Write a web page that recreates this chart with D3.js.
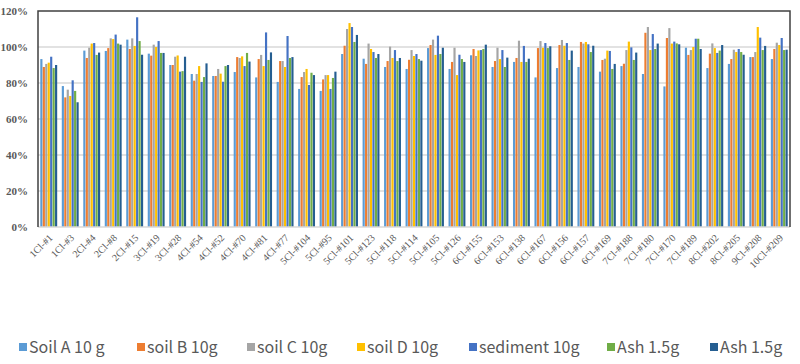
<!DOCTYPE html>
<html><head><meta charset="utf-8">
<script src="https://cdn.jsdelivr.net/npm/d3@7"></script>
<style>html,body{margin:0;padding:0;background:#fff;}svg{display:block;}</style>
</head><body>
<svg id="chart" width="800" height="364"></svg>
<script>
const categories = ["1Cl-#1","1Cl-#3","2Cl-#4","2Cl-#8","2Cl-#15","3Cl-#19","3Cl-#28","4Cl-#54","4Cl-#52","4Cl-#70","4Cl-#81","4Cl-#77","5Cl-#104","5Cl-#95","5Cl-#101","5Cl-#123","5Cl-#118","5Cl-#114","5Cl-#105","5Cl-#126","6Cl-#155","6Cl-#153","6Cl-#138","6Cl-#167","6Cl-#156","6Cl-#157","6Cl-#169","7Cl-#188","7Cl-#180","7Cl-#170","7Cl-#189","8Cl-#202","8Cl-#205","9Cl-#208","10Cl-#209"];
const seriesNames = ["Soil A 10 g","soil B 10g","soil C 10g","soil D 10g","sediment 10g","Ash 1.5g","Ash 1.5g"];
const soilA = [93.3,78.3,98.0,97.8,104.1,96.3,90.0,85.0,83.9,86.1,83.1,80.6,76.7,75.6,96.1,93.5,88.9,87.8,99.4,87.8,95.4,88.9,91.7,83.1,88.3,88.9,86.3,89.4,85.0,78.1,99.6,88.3,90.6,94.4,93.3];
const soilB = [88.9,72.0,93.9,99.4,98.9,95.2,90.0,81.3,83.9,94.4,93.3,92.2,83.3,82.0,100.7,90.6,92.2,92.9,101.1,91.7,98.9,92.2,93.9,99.4,101.1,102.8,92.8,90.7,107.9,105.0,95.6,96.3,93.3,94.4,98.9];
const soilC = [90.6,76.3,99.6,104.8,104.8,101.3,94.6,85.0,87.8,93.9,95.6,92.2,86.1,84.4,110.0,101.9,100.2,98.3,104.1,99.6,95.0,99.6,103.5,103.3,103.9,101.9,93.5,98.3,111.1,110.5,98.3,102.0,98.5,97.2,102.4];
const soilD = [91.3,72.8,101.9,104.4,100.6,100.0,95.3,89.4,85.2,94.8,89.4,88.9,87.8,84.4,113.3,98.9,93.9,95.0,95.6,84.4,98.1,93.3,91.7,99.6,100.7,102.8,98.0,103.0,98.3,101.9,100.0,99.4,97.2,111.1,101.1];
const sediment = [94.6,81.5,102.2,106.9,116.5,103.3,86.3,80.6,80.7,89.4,108.1,106.1,78.9,76.7,111.1,97.2,98.3,96.1,106.3,95.7,98.3,98.3,100.6,102.2,102.2,101.5,97.8,99.8,107.2,103.0,104.6,96.7,98.9,105.2,105.0];
const ashA = [88.3,75.6,95.6,101.9,103.3,96.7,86.6,83.3,89.4,96.7,92.8,93.9,85.7,82.8,102.8,93.9,92.2,93.3,96.1,93.3,98.9,88.9,91.7,99.4,92.8,97.2,87.8,92.8,98.9,102.0,104.6,98.0,97.2,98.3,98.3];
const ashB = [90.0,69.3,96.9,101.3,95.7,96.7,94.6,90.9,90.0,91.9,97.0,94.4,84.4,86.3,106.7,96.1,93.9,92.4,99.6,91.7,101.3,94.1,93.5,100.4,98.0,100.7,90.6,96.9,101.9,101.5,98.9,101.1,95.7,100.6,98.5];
const yTicks = [0,20,40,60,80,100,120];
const colors = ["#5B9BD5","#ED7D31","#A5A5A5","#FFC000","#4472C4","#70AD47","#255E91"];

const seriesValues = [soilA, soilB, soilC, soilD, sediment, ashA, ashB];
const svg = d3.select("#chart");
const mLeft = 38, mRight = 790, mTop = 11, mBottom = 227;

const x0 = d3.scaleBand().domain(categories).range([mLeft, mRight]).paddingInner(0.2).paddingOuter(0.1);
const x1 = d3.scaleBand().domain(d3.range(seriesValues.length)).range([0, x0.bandwidth()]);
const y = d3.scaleLinear().domain([0, 120]).range([mBottom, mTop]);

// gridlines
svg.append("g").selectAll("line").data(yTicks.filter(t => t > 0 && t < 120)).join("line")
  .attr("x1", mLeft).attr("x2", mRight)
  .attr("y1", d => y(d)).attr("y2", d => y(d))
  .attr("stroke", "#d9d9d9").attr("stroke-width", 1.5);

// bars
const groups = svg.append("g").selectAll("g").data(categories).join("g")
  .attr("transform", d => `translate(${x0(d)},0)`);
groups.selectAll("rect").data((d, i) => seriesValues.map((s, k) => ({k, v: s[i]}))).join("rect")
  .attr("x", d => x1(d.k) + 0.15)
  .attr("width", x1.bandwidth() - 0.3)
  .attr("y", d => y(d.v))
  .attr("height", d => y(0) - y(d.v))
  .attr("fill", d => colors[d.k]);

// bottom axis line
svg.append("line").attr("x1", mLeft).attr("x2", mRight).attr("y1", mBottom).attr("y2", mBottom)
  .attr("stroke", "#d9d9d9").attr("stroke-width", 1.5);
// frame top/right/left
svg.append("path").attr("d", `M${mLeft},${mBottom}V${mTop}H${mRight}V${mBottom}`)
  .attr("fill", "none").attr("stroke", "#404040").attr("stroke-width", 1.5);

// y axis labels
const yAxis = d3.axisLeft(y).tickValues(yTicks).tickFormat(d => d + "%").tickSize(0).tickPadding(10);
const ya = svg.append("g").attr("transform", `translate(${mLeft},0)`).call(yAxis);
ya.select(".domain").remove();
ya.selectAll("text").attr("font-family", "Liberation Serif").attr("font-weight", "bold")
  .attr("font-size", 11).attr("fill", "#595959");

// x axis labels
const xAxis = d3.axisBottom(x0).tickSize(0).tickPadding(0);
const xa = svg.append("g").attr("transform", `translate(0,${mBottom})`).call(xAxis);
xa.select(".domain").remove();
xa.selectAll("text")
  .attr("font-family", "Liberation Serif").attr("font-size", 10).attr("fill", "#595959")
  .attr("text-anchor", "end").attr("y", 0).attr("dy", "0.35em")
  .attr("transform", "translate(2,9) rotate(-45)");

// legend
const legendX = [19, 137, 247, 357, 469, 607, 710];
const lg = svg.append("g").selectAll("g").data(seriesNames).join("g")
  .attr("transform", (d, i) => `translate(${legendX[i]},347)`);
lg.append("rect").attr("x", 0).attr("y", -4).attr("width", 8).attr("height", 8)
  .attr("fill", (d, i) => colors[i]);
lg.append("text").attr("x", 10).attr("y", 0).attr("dy", "0.35em")
  .attr("font-family", "Noto Sans CJK JP").attr("font-size", 16).attr("fill", "#595959")
  .text(d => d);
</script>
</body></html>
